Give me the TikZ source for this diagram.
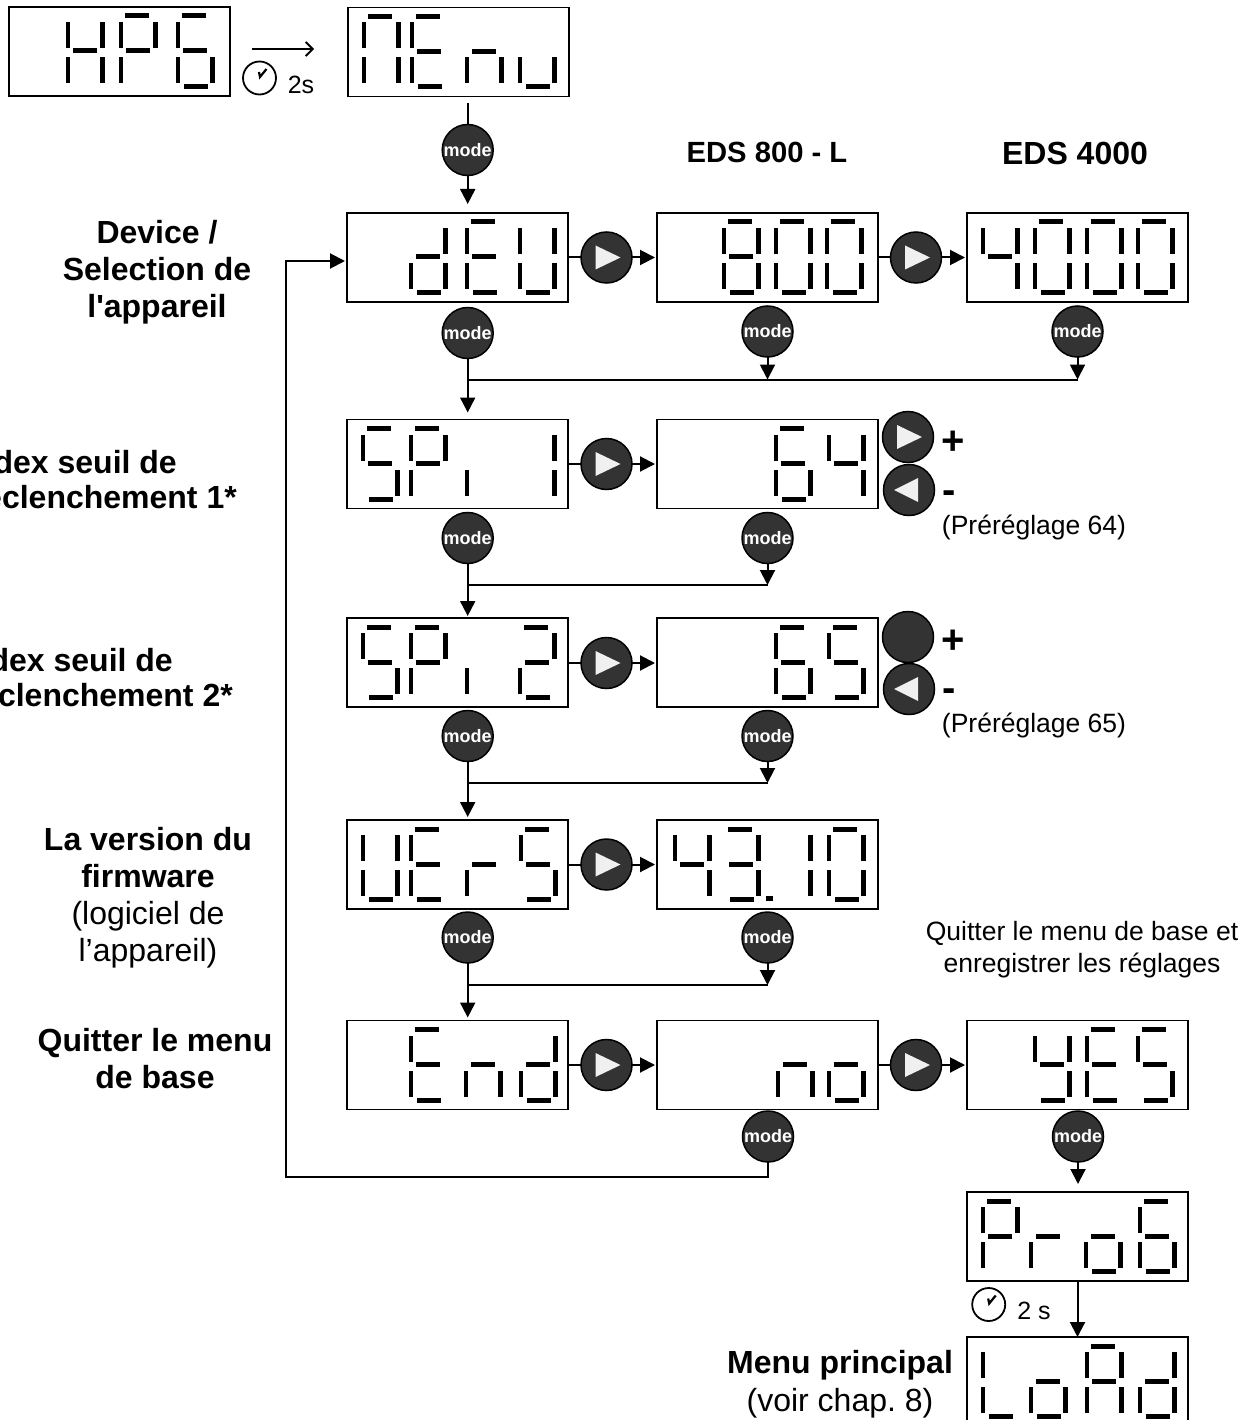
\documentclass[tikz,border=0pt]{standalone}
\usepackage{fontspec}
\setmainfont{Liberation Sans}
\usetikzlibrary{arrows.meta, positioning}

\definecolor{keygrey}{HTML}{333333}

\tikzset{
  lcd/.style={draw, line width=1.5pt, rectangle, minimum width=221pt, minimum height=89pt, inner sep=0, outer sep=0},
  seg a/.style={insert path={(4,6.5) rectangle (28,11.5)}},
  seg b/.style={insert path={(32,15) rectangle (36.5,41)}},
  seg c/.style={insert path={(32,50) rectangle (36.5,76)}},
  seg d/.style={insert path={(6,77) rectangle (30,82)}},
  seg e/.style={insert path={(-2.3,50) rectangle (2.2,76)}},
  seg f/.style={insert path={(-2.3,15) rectangle (2.2,41)}},
  seg g/.style={insert path={(5,41.5) rectangle (29,46.5)}},
  modekey/.style={circle, draw, line width=1.5pt, fill=keygrey, text=white, minimum size=51pt, inner sep=0, outer sep=0,
    font=\fontsize{18}{18}\selectfont\bfseries},
  blankkey/.style={circle, draw, line width=1.5pt, fill=keygrey, minimum size=51pt, inner sep=0, outer sep=0},
  nextkey/.style={blankkey, path picture={\fill[white!94!black, shift={(path picture bounding box.center)}] (-11,-12) -- (14,0) -- (-11,12) -- cycle;}},
  backkey/.style={blankkey, path picture={\fill[white!94!black, shift={(path picture bounding box.center)}] (9,-12) -- (-15,0) -- (9,12) -- cycle;}},
  clockface/.style={circle, draw, line width=1.8pt, minimum size=33pt, inner sep=0, outer sep=0,
    path picture={\draw[line width=2.2pt, shift={(path picture bounding box.center)}] (-0.5,-6) -- (0.5,-1) -- (7,-9);}},
  flow/.style={line width=2pt, -{Triangle[length=15pt,width=15pt]}},
  wire/.style={line width=2pt},
  head/.style={inner sep=0, align=center, font=\fontsize{32}{37}\selectfont\bfseries},
  plain/.style={inner sep=0, align=center, font=\fontsize{32}{37}\selectfont},
  note/.style={inner sep=0, align=center, font=\fontsize{26.5}{32}\selectfont},
  waittext/.style={inner sep=0, font=\fontsize{25}{30}\selectfont},
  sign/.style={inner sep=0, font=\fontsize{40}{40}\selectfont\bfseries},
}

% one digit of a display: box, offset of the digit in the box, lit segments
\newcommand{\lcdchar}[3]{%
  \begin{scope}[shift={(#1.north west)}, xshift=#2pt]
    \foreach \s in {#3} {\fill[seg \s];}
  \end{scope}}

\begin{document}
\frenchspacing
\begin{tikzpicture}[x=1pt,y=-1pt]
  \useasboundingbox (0,0) rectangle (1252,1420);
  \clip (0,0) rectangle (1252,1420);

  % displays
  \node[lcd] (hps)  at (119.5,51.5) {};
  \node[lcd] (menu) at (458.5,52) {};
  \node[lcd] (dev)  at (457.5,257.5) {};
  \node[lcd] (d800) at (767.5,257.5) {};
  \node[lcd] (d4k)  at (1077.5,257.5) {};
  \node[lcd] (spa)  at (457.5,464) {};
  \node[lcd] (spav) at (767.5,464) {};
  \node[lcd] (spb)  at (457.5,662.5) {};
  \node[lcd] (spbv) at (767.5,662.5) {};
  \node[lcd] (vers) at (457.5,864.5) {};
  \node[lcd] (verv) at (767.5,864.5) {};
  \node[lcd] (quit) at (457.5,1065) {};
  \node[lcd] (qno)  at (767.5,1065) {};
  \node[lcd] (qyes) at (1077.5,1065) {};
  \node[lcd] (prog) at (1077.5,1236.5) {};
  \node[lcd] (load) at (1077.5,1381.5) {};

  % digits
  \lcdchar{hps}{59}{b,c,e,f,g}
  \lcdchar{hps}{112}{a,b,e,f,g}
  \lcdchar{hps}{169}{a,c,d,e,f,g}
  \lcdchar{menu}{16}{a,b,c,e,f}
  \lcdchar{menu}{64}{a,d,e,f,g}
  \lcdchar{menu}{119}{c,e,g}
  \lcdchar{menu}{172}{c,d,e}
  \lcdchar{dev}{64}{b,c,d,e,g}
  \lcdchar{dev}{120}{a,d,e,f,g}
  \lcdchar{dev}{173}{b,c,d,e,f}
  \lcdchar{d800}{67}{a,b,c,d,e,f,g}
  \lcdchar{d800}{119}{a,b,c,d,e,f}
  \lcdchar{d800}{170}{a,b,c,d,e,f}
  \lcdchar{d4k}{16}{b,c,f,g}
  \lcdchar{d4k}{68}{a,b,c,d,e,f}
  \lcdchar{d4k}{120}{a,b,c,d,e,f}
  \lcdchar{d4k}{171}{a,b,c,d,e,f}
  \lcdchar{spa}{16}{a,c,d,f,g}
  \lcdchar{spa}{64}{a,b,e,f,g}
  \lcdchar{spa}{120}{e}
  \lcdchar{spa}{173}{b,c}
  \lcdchar{spav}{119}{a,c,d,e,f,g}
  \lcdchar{spav}{172}{b,c,f,g}
  \lcdchar{spb}{16}{a,c,d,f,g}
  \lcdchar{spb}{64}{a,b,e,f,g}
  \lcdchar{spb}{120}{e}
  \lcdchar{spb}{173}{a,b,d,e,g}
  \lcdchar{spbv}{119}{a,c,d,e,f,g}
  \lcdchar{spbv}{172}{a,c,d,f,g}
  \lcdchar{vers}{16}{b,c,d,e,f}
  \lcdchar{vers}{64}{a,d,e,f,g}
  \lcdchar{vers}{120}{e,g}
  \lcdchar{vers}{174}{a,c,d,f,g}
  \lcdchar{verv}{18}{b,c,f,g}
  \lcdchar{verv}{67}{a,b,c,d,g}
  \lcdchar{verv}{119}{b,c}
  \lcdchar{verv}{172}{a,b,c,d,e,f}
  \lcdchar{quit}{64}{a,d,e,f,g}
  \lcdchar{quit}{119}{c,e,g}
  \lcdchar{quit}{174}{b,c,d,e,g}
  \lcdchar{qno}{121}{c,e,g}
  \lcdchar{qno}{172}{c,d,e,g}
  \lcdchar{qyes}{68}{b,c,d,f,g}
  \lcdchar{qyes}{120}{a,d,e,f,g}
  \lcdchar{qyes}{171}{a,c,d,f,g}
  \lcdchar{prog}{16}{a,b,e,f,g}
  \lcdchar{prog}{64}{e,g}
  \lcdchar{prog}{119}{c,d,e,g}
  \lcdchar{prog}{173}{a,c,d,e,f,g}
  \lcdchar{load}{16}{d,e,f}
  \lcdchar{load}{64}{c,d,e,g}
  \lcdchar{load}{120}{a,b,c,e,f,g}
  \lcdchar{load}{173}{b,c,d,e,g}
  \fill (766,896) rectangle (772.5,901);

  % mode keys
  \node[modekey] (m0)  at (467.7,150) {mode};
  \node[modekey] (m1)  at (467.7,333) {mode};
  \node[modekey] (m2)  at (767.5,331.5) {mode};
  \node[modekey] (m3)  at (1077.5,331.5) {mode};
  \node[modekey] (m4)  at (467.7,538) {mode};
  \node[modekey] (m5)  at (767.5,538) {mode};
  \node[modekey] (m6)  at (467.7,736) {mode};
  \node[modekey] (m7)  at (767.5,736) {mode};
  \node[modekey] (m8)  at (467.7,937.5) {mode};
  \node[modekey] (m9)  at (767.5,937.5) {mode};
  \node[modekey] (m10) at (768,1136.5) {mode};
  \node[modekey] (m11) at (1078,1136.5) {mode};

  % arrow keys
  \node[nextkey] (k1) at (606.5,257.5) {};
  \node[nextkey] (k2) at (916,257.5) {};
  \node[nextkey] (k3) at (606.5,464) {};
  \node[nextkey] (k4) at (606.5,663) {};
  \node[nextkey] (k5) at (606.5,864.5) {};
  \node[nextkey] (k6) at (606.5,1065) {};
  \node[nextkey] (k7) at (916,1065) {};
  \node[nextkey] (up1) at (908,437) {};
  \node[backkey] (dn1) at (909,490) {};
  \node[blankkey] (up2) at (908,637) {};
  \node[backkey] (dn2) at (909,689) {};
  \node[sign] (plus1)  at (953,443) {+};
  \node[sign] (minus1) at (949,497) {-};
  \node[sign] (plus2)  at (953,642) {+};
  \node[sign] (minus2) at (949,695) {-};

  % clocks
  \node[clockface] (c1) at (259.5,78) {};
  \node[waittext] (c1t) at (301,85) {2s};
  \node[clockface] (c2) at (988.7,1304.5) {};
  \node[waittext] (c2t) at (1034,1311) {2 s};

  % connectors of the first rows
  \coordinate (t0) at (252,49);
  \coordinate (t1) at (314,49);
  \draw[line width=1.8pt, -{Straight Barb[length=7pt,width=14pt]}] (t0) -- (t1);
  \draw[wire, shorten <=7pt] (m0 |- menu.south) -- (m0);
  \draw[flow, shorten >=9pt] (m0) -- (m0 |- dev.north);

  \draw[wire] (dev.east |- k1) -- (k1);
  \draw[flow, shorten >=2pt] (k1) -- (k1 -| d800.west);
  \draw[wire] (d800.east |- k2) -- (k2);
  \draw[flow, shorten >=2pt] (k2) -- (k2 -| d4k.west);
  \coordinate (j1) at (467.7,379.5);
  \draw[wire] (j1) -- (j1 -| m3);
  \draw[flow, shorten >=7pt] (m1) -- (m1 |- spa.north);
  \draw[flow] (m2) -- (m2 |- j1);
  \draw[flow] (m3) -- (m3 |- j1);

  \draw[wire] (spa.east |- k3) -- (k3);
  \draw[flow, shorten >=2pt] (k3) -- (k3 -| spav.west);
  \coordinate (j2) at (467.7,585);
  \draw[wire] (j2) -- (j2 -| m5);
  \draw[flow, shorten >=2pt] (m4) -- (m4 |- spb.north);
  \draw[flow] (m5) -- (m5 |- j2);

  \draw[wire] (spb.east |- k4) -- (k4);
  \draw[flow, shorten >=2pt] (k4) -- (k4 -| spbv.west);
  \coordinate (j3) at (467.7,783);
  \draw[wire] (j3) -- (j3 -| m7);
  \draw[flow, shorten >=3pt] (m6) -- (m6 |- vers.north);
  \draw[flow] (m7) -- (m7 |- j3);

  \draw[wire] (vers.east |- k5) -- (k5);
  \draw[flow, shorten >=2pt] (k5) -- (k5 -| verv.west);
  \coordinate (j4) at (467.7,985);
  \draw[wire] (j4) -- (j4 -| m9);
  \draw[flow, shorten >=3pt] (m8) -- (m8 |- quit.north);
  \draw[flow] (m9) -- (m9 |- j4);

  \draw[wire] (quit.east |- k6) -- (k6);
  \draw[flow, shorten >=2pt] (k6) -- (k6 -| qno.west);
  \draw[wire] (qno.east |- k7) -- (k7);
  \draw[flow, shorten >=2pt] (k7) -- (k7 -| qyes.west);
  \draw[flow, shorten >=8pt] (m11) -- (m11 |- prog.north);
  \draw[flow] (prog.south) -- (load.north);

  % way back to the device display
  \coordinate (back) at (286,1177);
  \coordinate (devin) at (345,261);
  \draw[flow] (m10) |- (back) |- (devin);

  % texts
  \node[head, font=\fontsize{29.2}{34}\selectfont\bfseries] (edsa) at (767,152) {EDS 800 - L};
  \node[head] (edsb) at (1075,153) {EDS 4000};
  \node[head] (tdev) at (157,272) {Device /\\Selection de\\l\textquotesingle appareil};
  \node[head, anchor=east] (tia) at (177,462) {Index seuil de};
  \node[head, anchor=east] (tib) at (237,497) {declenchement 1*};
  \node[head, anchor=east] (tic) at (173,660) {Index seuil de};
  \node[head, anchor=east] (tid) at (233,695) {declenchement 2*};
  \node[plain] (tver) at (148,897.5) {\textbf{La version du}\\\textbf{firmware}\\(logiciel de\\l’appareil)};
  \node[head] (tend) at (155,1059) {Quitter le menu\\de base};
  \node[note] (tp1) at (1034,527) {(Préréglage 64)};
  \node[note] (tp2) at (1034,725) {(Préréglage 65)};
  \node[note] (tq) at (1082,950) {Quitter le menu de base et\\enregistrer les réglages};
  \node[plain, font=\fontsize{32}{38}\selectfont] (tmp) at (840,1384) {\textbf{Menu principal}\\(voir chap. 8)};
\end{tikzpicture}
\end{document}
